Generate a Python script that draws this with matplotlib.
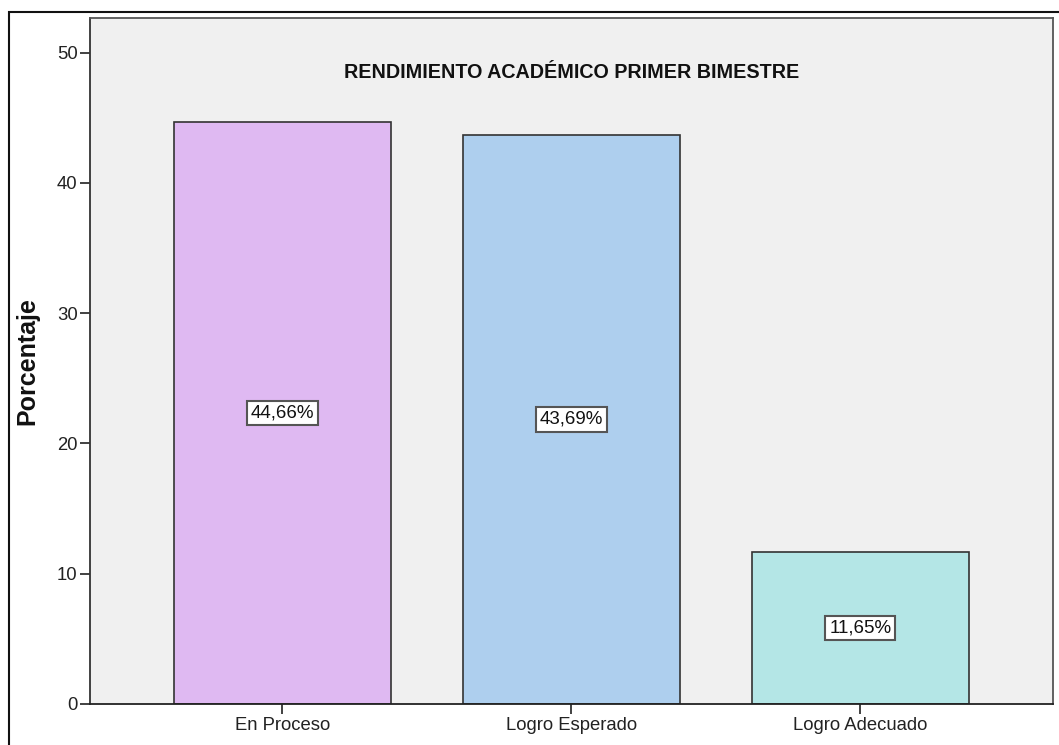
import matplotlib as mpl
from matplotlib import pyplot as plt
from matplotlib.patches import Rectangle

mpl.rcParams['font.family'] = ['Liberation Sans', 'DejaVu Sans']

categorias = ['En Proceso', 'Logro Esperado', 'Logro Adecuado']
porcentajes = [44.66, 43.69, 11.65]
etiquetas = ['44,66%', '43,69%', '11,65%']
colores = ['#dfb9f2', '#aecfee', '#b4e6e6']
yticks = [0, 10, 20, 30, 40, 50]

W, H = 1059, 745
fig = plt.figure(figsize=(W / 100, H / 100), dpi=100)

# outer frame (right and bottom are cut off in the original)
fig.patches.append(Rectangle((9 / W, -0.1), 1.2, 1 - 12 / H + 0.1, transform=fig.transFigure,
                             fill=False, edgecolor='#111111', lw=1.5))

ax = fig.add_axes([90 / W, (H - 704) / H, (1053 - 90) / W, (704 - 18) / H])
ax.set_facecolor('#f0f0f0')

x = range(len(categorias))
ax.bar(x, porcentajes, width=0.75, color=colores, edgecolor='#333333', lw=1.2, zorder=2)

for xi, v, lab in zip(x, porcentajes, etiquetas):
    ax.text(xi, v / 2, lab, ha='center', va='center', fontsize=13.5, color='#111111', zorder=3,
            bbox=dict(boxstyle='square,pad=0.2', fc='white', ec='#555555', lw=1.5))

ax.set_xlim(-0.665, 2.667)
ax.set_ylim(0, 52.65)
ax.set_yticks(yticks)
ax.set_xticks(list(x))
ax.set_xticklabels(categorias)
ax.tick_params(axis='both', labelsize=13.3, length=7, width=1.3, color='#333333', labelcolor='#222222', pad=2)

for s in ax.spines.values():
    s.set_color('#555555')
    s.set_linewidth(1.3)
ax.spines['left'].set_color('#333333')
ax.spines['bottom'].set_color('#222222')

ax.text(0.5, 0.92, 'RENDIMIENTO ACADÉMICO PRIMER BIMESTRE', transform=ax.transAxes,
        ha='center', va='center', fontsize=14.2, fontweight='bold', color='#111111')

fig.text(27 / W, 1 - 361 / H, 'Porcentaje', rotation=90, ha='center', va='center',
         fontsize=18, fontweight='bold', color='#111111')

plt.savefig('out.png', dpi=100)
